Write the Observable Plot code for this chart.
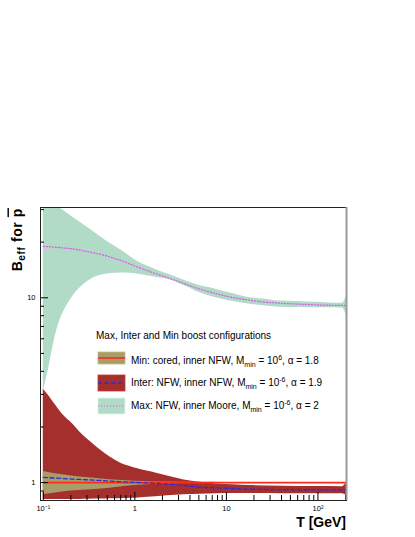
<!DOCTYPE html>
<html><head><meta charset="utf-8">
<script src="https://cdn.jsdelivr.net/npm/d3@7"></script>
<script src="https://cdn.jsdelivr.net/npm/@observablehq/plot@0.6"></script>
<style>
body{margin:0;background:#fff}
svg{font-family:"Liberation Sans",Arial,Helvetica,sans-serif}
</style>
</head><body><div id="chart"></div>
<script>
// ---- data (T in GeV, boost factor B_eff) ----
const maxT    = [0.1, 0.115, 0.132, 0.149, 0.169, 0.208, 0.316, 0.48, 0.73, 1.1, 1.7, 2.54, 3.5, 4.96, 7.3, 11, 16.8, 25, 38.6, 60, 89, 130, 185, 205];
const maxHigh = [36, 34, 32.5, 30.8, 29.5, 27.4, 23.7, 20.4, 17.9, 15.6, 14.2, 13.2, 12.4, 11.7, 11.2, 10.6, 10.07, 9.84, 9.6, 9.55, 9.45, 9.38, 9.35, 10.2];
const maxLow  = [3.1, 4.2, 5.9, 7.35, 8.5, 10.1, 12.4, 13.4, 13.6, 13.4, 12.9, 12.4, 11.6, 10.7, 10.07, 9.6, 9.28, 9.05, 8.9, 8.85, 8.83, 8.82, 8.8, 8.0];
const maxMid  = [18.96, 18.9, 18.8, 18.7, 18.6, 18.4, 17.7, 16.9, 15.8, 14.6, 13.5, 12.6, 11.9, 11.2, 10.6, 10.1, 9.75, 9.5, 9.35, 9.25, 9.17, 9.12, 9.1, 9.1];

const interT    = [0.1, 0.118, 0.137, 0.16, 0.208, 0.25, 0.316, 0.4, 0.48, 0.6, 0.73, 0.9, 1.1, 1.4, 1.68, 2.27, 3.44, 5.2, 7.9, 12, 18.2, 40, 100, 185, 205];
const interHigh = [3.2, 2.9, 2.61, 2.36, 2.08, 1.88, 1.69, 1.53, 1.43, 1.33, 1.26, 1.22, 1.186, 1.15, 1.126, 1.084, 1.032, 1.004, 0.984, 0.972, 0.963, 0.955, 0.951, 0.95, 1.004];
const interLow  = [0.81, 0.81, 0.81, 0.81, 0.81, 0.81, 0.812, 0.814, 0.815, 0.817, 0.82, 0.823, 0.826, 0.832, 0.838, 0.848, 0.86, 0.866, 0.87, 0.872, 0.872, 0.871, 0.87, 0.87, 0.85];
const interMid  = [1.068, 1.062, 1.057, 1.052, 1.045, 1.04, 1.034, 1.028, 1.022, 1.015, 1.01, 1.005, 1.0, 0.995, 0.99, 0.982, 0.965, 0.945, 0.936, 0.929, 0.922, 0.916, 0.914, 0.913, 0.913];

const minT    = [0.1, 0.13, 0.186, 0.27, 0.43, 0.65, 1, 1.5, 2.2, 3, 5, 10, 30, 100, 205];
const minHigh = [1.147, 1.12, 1.091, 1.068, 1.047, 1.03, 1.016, 1.01, 1.006, 1.005, 1.003, 1.002, 1.001, 1.001, 1.001];
const minLow  = [0.861, 0.876, 0.897, 0.91, 0.924, 0.944, 0.963, 0.975, 0.984, 0.99, 0.994, 0.997, 0.999, 0.999, 0.999];
const minMid  = [1, 1, 1, 1, 1, 1, 1, 1, 1, 1, 1, 1, 1, 1, 1];

const xMajor = [0.1, 1, 10, 100];
const xMajorLabels = ["10\u207B\u00B9", "1", "10", "10\u00B2"];
const xMinor = [0.2,0.3,0.4,0.5,0.6,0.7,0.8,0.9, 2,3,4,5,6,7,8,9, 20,30,40,50,60,70,80,90, 200];
const yMajor = [1, 10];
const yMajorLabels = ["1", "10"];
const yMinor = [0.8, 0.9, 2,3,4,5,6,7,8,9, 20,30];

const legendTitle = "Max, Inter and Min boost configurations";
const legendNames = ["Min: cored, inner NFW, M", "Inter: NFW, inner NFW, M", "Max: NFW, inner Moore, M"];
const legendExp   = ["6", "-6", "-6"];
const legendAlpha = ["1.8", "1.9", "2"];

// ---- styling ----
const cGreen = "#b1dbc7", cDark = "#a52f2d", cKhaki = "#a69d69";
const cRed = "#ff2a1a", cBlue = "#2c2cd8", cMag = "#dd55ee";

const rows = (T, lo, hi, mid) => T.map((t, i) => ({t, lo: lo[i], hi: hi[i], mid: mid[i]}));
const maxRows = rows(maxT, maxLow, maxHigh, maxMid);
const interRows = rows(interT, interLow, interHigh, interMid);
const minRows = rows(minT, minLow, minHigh, minMid);

const W = 415, H = 537, mL = 40, mR = 69, mT = 207, mB = 37;
const fw = W - mL - mR, fh = H - mT - mB;
const xDomain = [0.0932, 205], yDomain = [0.8, 30.8];

const plot = Plot.plot({
  width: W, height: H,
  marginLeft: mL, marginRight: mR, marginTop: mT, marginBottom: mB,
  style: {background: "#fff", fontFamily: "'Liberation Sans',Arial,sans-serif", color: "#000"},
  x: {type: "log", domain: xDomain},
  y: {type: "log", domain: yDomain},
  marks: [
    Plot.areaY(maxRows, {x: "t", y1: "lo", y2: "hi", fill: cGreen, curve: "monotone-x", clip: true}),
    Plot.areaY(interRows, {x: "t", y1: "lo", y2: "hi", fill: cDark, curve: "monotone-x", clip: true}),
    Plot.areaY(minRows, {x: "t", y1: "lo", y2: "hi", fill: cKhaki, curve: "monotone-x", clip: true}),
    Plot.line(minRows, {x: "t", y: "mid", stroke: cRed, strokeWidth: 1.6, clip: true}),
    Plot.line(interRows, {x: "t", y: "mid", stroke: cBlue, strokeWidth: 1.3, strokeDasharray: "4,2.7", curve: "monotone-x", clip: true}),
    Plot.line(maxRows, {x: "t", y: "mid", stroke: cMag, strokeWidth: 1.2, strokeDasharray: "1.1,1.9", curve: "monotone-x", clip: true}),
    Plot.tickX(xMinor, {x: d => d, insetTop: fh - 5, stroke: "#000", strokeWidth: 1}),
    Plot.tickX(xMajor, {x: d => d, insetTop: fh - 8, stroke: "#000", strokeWidth: 1}),
    Plot.tickY(yMinor, {y: d => d, insetRight: fw - 4, stroke: "#000", strokeWidth: 1}),
    Plot.tickY(yMajor, {y: d => d, insetRight: fw - 8, stroke: "#000", strokeWidth: 1}),
    Plot.axisX({ticks: xMajor, tickSize: 0, tickPadding: 5, fontSize: 7.5, label: null,
      tickFormat: d => xMajorLabels[xMajor.indexOf(d)]}),
    Plot.axisY({ticks: yMajor, tickSize: 0, tickPadding: 5, fontSize: 7.5, label: null,
      tickFormat: d => yMajorLabels[yMajor.indexOf(d)]}),
    Plot.frame({stroke: "#222", strokeWidth: 1}),
    Plot.ruleX([xDomain[1]], {stroke: "#9a9a9a", strokeWidth: 2})
  ]
});
document.getElementById("chart").appendChild(plot);

// ---- titles & legend (drawn into the same svg) ----
const svg = d3.select(plot);
const font = "'Liberation Sans',Arial,sans-serif";

// x title
svg.append("text").attr("x", 346).attr("y", 527).attr("text-anchor", "end")
  .attr("font-family", font).attr("font-size", 14).attr("font-weight", "bold").text("T [GeV]");

// y title
const yt = svg.append("text").attr("transform", "translate(21.5,208) rotate(-90)")
  .attr("text-anchor", "end").attr("font-family", font).attr("font-size", 14).attr("font-weight", "bold")
  .attr("letter-spacing", 0.6);
yt.append("tspan").text("B");
yt.append("tspan").attr("font-size", 10).attr("dy", 3.5).text("eff");
yt.append("tspan").attr("dy", -3.5).text(" for ");
yt.append("tspan").style("text-decoration", "overline").text("p");

// legend
const lg = svg.append("g").attr("font-family", font).attr("font-size", 10).attr("fill", "#000")
  .attr("text-anchor", "start");
lg.append("text").attr("x", 96).attr("y", 339).attr("text-anchor", "start").text(legendTitle);
const sw = [
  {y: 352, h: 12, fill: cKhaki, stroke: cRed, dash: null, sw: 1.6},
  {y: 375, h: 16, fill: cDark, stroke: cBlue, dash: "4,2.7", sw: 1.3},
  {y: 398, h: 16, fill: cGreen, stroke: cMag, dash: "1.1,1.9", sw: 1.2}
];
const baselines = [364, 386, 409];
sw.forEach((s, i) => {
  lg.append("rect").attr("x", 98).attr("y", s.y).attr("width", 27).attr("height", s.h)
    .attr("fill", s.fill).attr("stroke", d3.color(s.fill).brighter(0.5)).attr("stroke-width", 0.8);
  lg.append("line").attr("x1", 98).attr("x2", 125).attr("y1", s.y + s.h / 2).attr("y2", s.y + s.h / 2)
    .attr("stroke", s.stroke).attr("stroke-width", s.sw).attr("stroke-dasharray", s.dash);
  const t = lg.append("text").attr("x", 131).attr("y", baselines[i]).attr("text-anchor", "start");
  t.append("tspan").text(legendNames[i]);
  t.append("tspan").attr("font-size", 7).attr("dy", 3).text("min");
  t.append("tspan").attr("dy", -3).text(" = 10");
  t.append("tspan").attr("font-size", 7).attr("dy", -4).text(legendExp[i]);
  t.append("tspan").attr("dy", 4).text(", \u03B1 = " + legendAlpha[i]);
});
</script>
</body></html>
